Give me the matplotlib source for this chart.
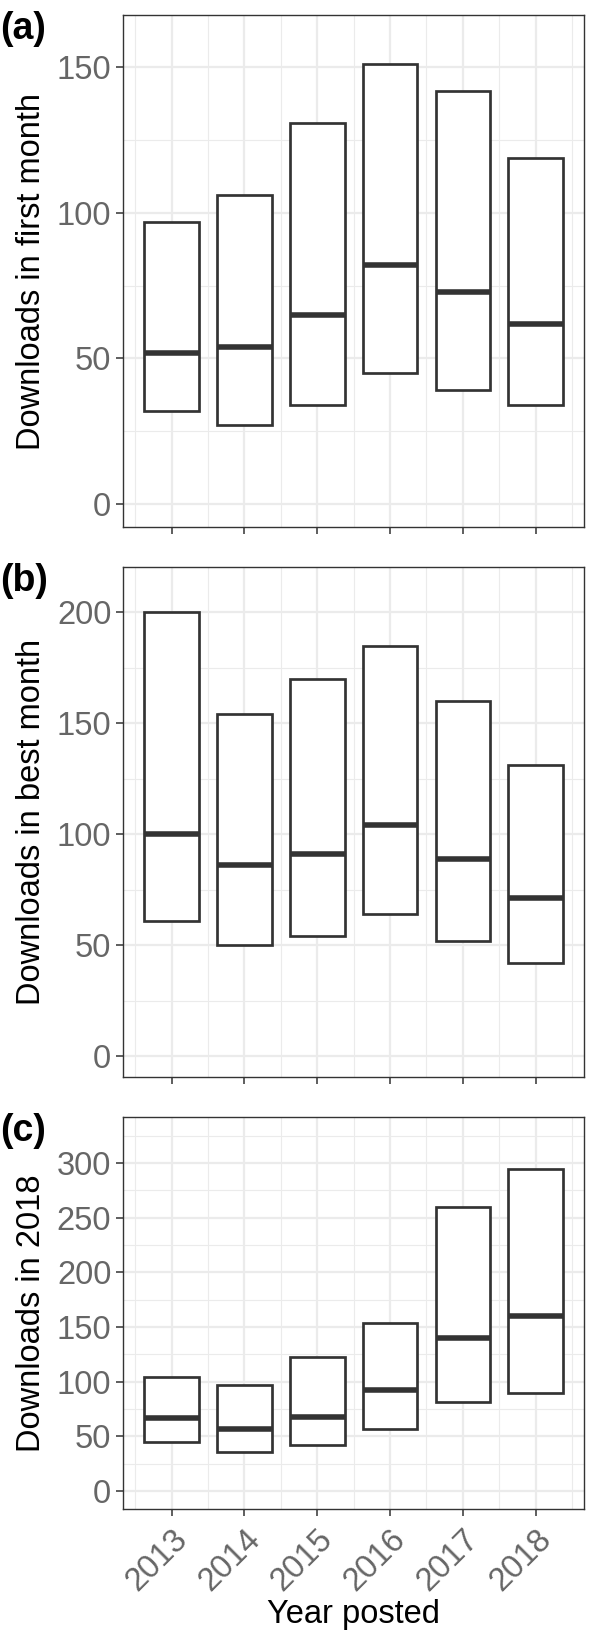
import matplotlib.pyplot as plt
import matplotlib.transforms as mtransforms
import numpy as np

plt.rcParams['font.family'] = ['Liberation Sans', 'DejaVu Sans']

years = [2013, 2014, 2015, 2016, 2017, 2018]

# (a) downloads in first month: lower quartile, median, upper quartile
first_q1 = [32, 27, 34, 45, 39, 34]
first_med = [52, 54, 65, 82, 73, 62]
first_q3 = [97, 106, 131, 151, 142, 119]

# (b) downloads in best month
best_q1 = [61, 50, 54, 64, 52, 42]
best_med = [100, 86, 91, 104, 89, 71]
best_q3 = [200, 154, 170, 185, 160, 131]

# (c) downloads in 2018
dl18_q1 = [45, 36, 42, 57, 81, 90]
dl18_med = [67, 57, 68, 92, 140, 160]
dl18_q3 = [104, 97, 123, 154, 260, 295]

panels = [
    ("(a)", "Downloads in first month", first_q1, first_med, first_q3,
     [0, 50, 100, 150], [25, 75, 125], (-7.9, 168)),
    ("(b)", "Downloads in best month", best_q1, best_med, best_q3,
     [0, 50, 100, 150, 200], [25, 75, 125, 175], (-9.6, 220.4)),
    ("(c)", "Downloads in 2018", dl18_q1, dl18_med, dl18_q3,
     [0, 50, 100, 150, 200, 250, 300], [25, 75, 125, 175, 225, 275, 325], (-16.3, 342)),
]

W, H = 600, 1652
# panel rectangles in pixels: left, top, right, bottom
rects = [(123.3, 15, 584, 527), (123.3, 567, 584, 1077.3), (123.3, 1117.3, 584, 1508.7)]

fig = plt.figure(figsize=(W / 100, H / 100), dpi=100)

edge = '#333333'
grid = '#EBEBEB'
box_w = 0.75

for k, (tag, ylab, q1, med, q3, yt, ymin, ylim) in enumerate(panels):
    l, t, r, b = rects[k]
    ax = fig.add_axes([l / W, 1 - b / H, (r - l) / W, (b - t) / H])
    ax.set_axisbelow(True)

    q1 = np.array(q1); q3 = np.array(q3); med = np.array(med); x = np.array(years)
    ax.bar(x, q3 - q1, bottom=q1, width=box_w, color='white', edgecolor=edge,
           linewidth=1.95, zorder=3)
    ax.hlines(med, x - box_w / 2, x + box_w / 2, color=edge, linewidth=4,
              capstyle='butt', zorder=4)

    ax.set_xlim(2012.3375, 2018.6625)
    ax.set_ylim(*ylim)
    ax.set_xticks(years)
    ax.set_xticks([2012.5 + i for i in range(7)], minor=True)
    ax.set_yticks(yt)
    ax.set_yticks(ymin, minor=True)
    ax.grid(True, which='major', color=grid, linewidth=1.6)
    ax.grid(True, which='minor', color=grid, linewidth=0.8)

    for s in ax.spines.values():
        s.set_color(edge)
        s.set_linewidth(1.0)
    ax.tick_params(which='major', length=5, width=1.1, color=edge,
                   labelsize=23.5, labelcolor='#666666', pad=3.6)
    ax.tick_params(which='minor', length=0)

    ax.set_ylabel(ylab, fontsize=23.5, color='black')
    ax.yaxis.set_label_coords(-0.166, 0.5)

    if k < 2:
        ax.set_xticklabels([])
    else:
        ax.set_xticklabels([str(y) for y in years], rotation=45, ha='right',
                           va='top', rotation_mode='anchor')
        off = mtransforms.ScaledTranslation(0, -3 / 100, fig.dpi_scale_trans)
        for lab in ax.get_xticklabels():
            lab.set_transform(lab.get_transform() + off)
        ax.set_xlabel("Year posted", fontsize=23.5, color='black')
        ax.xaxis.set_label_coords(0.5, -0.2307)

    fig.text(0.0, 1 - (t - 4) / H, tag, fontsize=27, fontweight='bold',
             ha='left', va='top')

fig.savefig('out.png', dpi=100)
